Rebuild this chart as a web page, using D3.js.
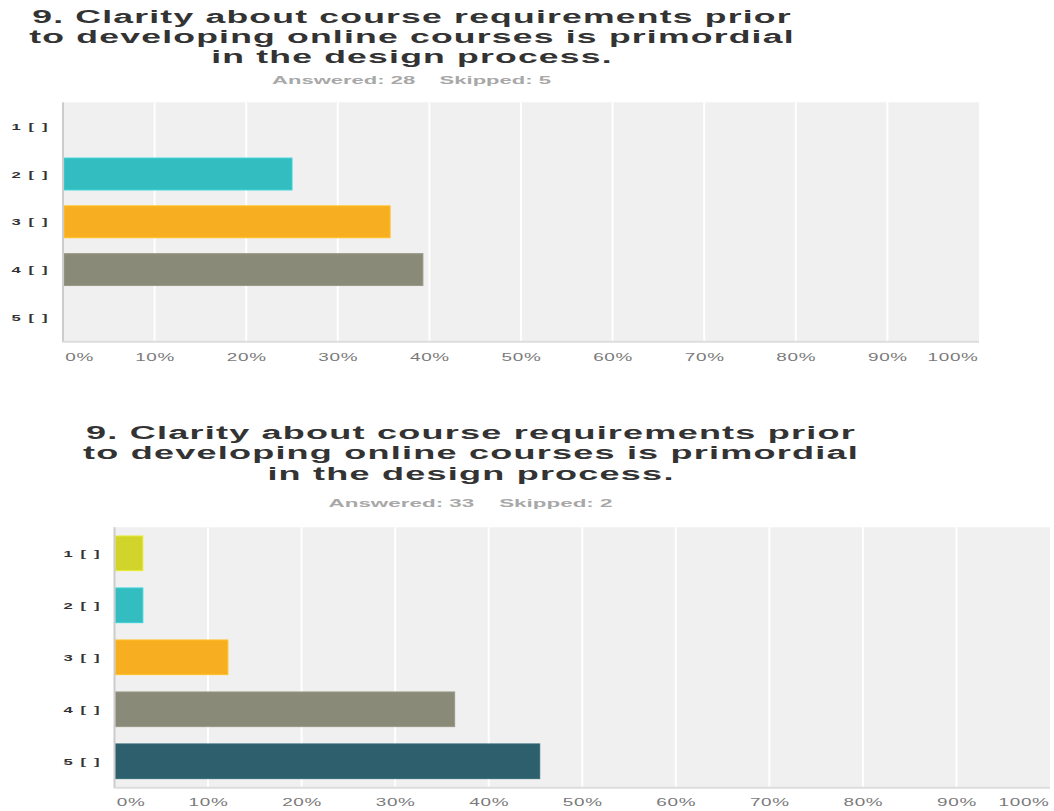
<!DOCTYPE html>
<html>
<head>
<meta charset="utf-8">
<script src="https://cdn.jsdelivr.net/npm/d3@7"></script>
<style>
  html, body { margin: 0; padding: 0; background: #fff; }
  svg { display: block; font-family: "Liberation Sans", Arial, Helvetica, sans-serif; }
</style>
</head>
<body>
<svg id="chart" width="1054" height="811"></svg>
<script>
// ---------- data ----------
const categories = ["1 [ ]", "2 [ ]", "3 [ ]", "4 [ ]", "5 [ ]"];
const barColors = ["#d1d42b", "#33bdc0", "#f7ae20", "#8a8a79", "#2e5f6c"];
const valuesA = [0, 25.0, 35.71, 39.29, 0];          // Answered 28
const valuesB = [3.03, 3.03, 12.12, 36.36, 45.45];   // Answered 33
const xTicks = [0, 10, 20, 30, 40, 50, 60, 70, 80, 90, 100];
const titleLines = [
  "9. Clarity about course requirements prior",
  "to developing online courses is primordial",
  "in the design process."
];
const statsA = "Answered: 28    Skipped: 5";
const statsB = "Answered: 33    Skipped: 2";

// ---------- layout ----------
const charts = [
  { values: valuesA, stats: statsA,
    x0: 63, x1: 979, top: 102.3, bottom: 341.3,
    titleCx: 412, titleY: [23, 43, 62.5], titleW: 760,
    statsY: 84, statsW: 279, statsCx: 411.5,
    tickY: 360.5, labelGap: 14 },
  { values: valuesB, stats: statsB,
    x0: 114.5, x1: 1050, top: 527.3, bottom: 787.3,
    titleCx: 471, titleY: [439, 459, 479.5], titleW: 770,
    statsY: 507, statsW: 284, statsCx: 470.5,
    tickY: 806, labelGap: 13.5 }
];

const svg = d3.select("#chart");

function stretchedText(parent, str, x, y, anchor) {
  const g = parent.append("g").attr("transform", `translate(${x},${y})`);
  const t = g.append("text").attr("text-anchor", anchor)
    .attr("xml:space", "preserve").style("white-space", "pre").text(str);
  return { g, t };
}

charts.forEach(c => {
  const root = svg.append("g");

  // title
  let titleSx = 1.9;
  titleLines.forEach((line, i) => {
    const { g, t } = stretchedText(root, line, c.titleCx, c.titleY[i], "middle");
    t.attr("font-size", 18).attr("font-weight", "bold").attr("fill", "#333")
      .attr("letter-spacing", 0.6);
    if (i === 0) {
      const w = t.node().getComputedTextLength();
      titleSx = c.titleW / w;
    }
    g.attr("transform", `translate(${c.titleCx},${c.titleY[i]}) scale(${titleSx},1)`);
  });

  // answered / skipped
  {
    const { g, t } = stretchedText(root, c.stats, c.statsCx, c.statsY, "middle");
    t.attr("font-size", 10.5).attr("font-weight", "bold").attr("fill", "#a8a8a8");
    const w = t.node().getComputedTextLength();
    g.attr("transform", `translate(${c.statsCx},${c.statsY}) scale(${c.statsW / w},1)`);
  }

  const x = d3.scaleLinear().domain([0, 100]).range([c.x0, c.x1]);
  const y = d3.scaleBand().domain(categories).range([c.top, c.bottom])
    .paddingInner(0.333).paddingOuter(0.167);

  // plot background
  root.append("rect")
    .attr("x", x(0)).attr("y", c.top)
    .attr("width", x(100) - x(0)).attr("height", c.bottom - c.top)
    .attr("fill", "#f0f0f0");

  // gridlines
  root.append("g").selectAll("line")
    .data(xTicks.filter(d => d > 0 && d < 100))
    .join("line")
    .attr("x1", d => x(d)).attr("x2", d => x(d))
    .attr("y1", c.top).attr("y2", c.bottom)
    .attr("stroke", "#ffffff").attr("stroke-width", 2);

  // bars
  root.append("g").selectAll("rect")
    .data(categories.map((k, i) => ({ k, v: c.values[i], col: barColors[i] })))
    .join("rect")
    .attr("x", x(0) + 1)
    .attr("y", d => y(d.k))
    .attr("width", d => Math.max(0, x(d.v) - x(0) - 1))
    .attr("height", y.bandwidth())
    .attr("fill", d => d.col)
    .attr("stroke", d => d3.color(d.col).brighter(0.3))
    .attr("stroke-width", d => d.v > 0 ? 1 : 0);

  // axis lines
  root.append("line")
    .attr("x1", x(0)).attr("x2", x(0)).attr("y1", c.top).attr("y2", c.bottom + 1)
    .attr("stroke", "#cccccc").attr("stroke-width", 2);
  root.append("line")
    .attr("x1", x(0)).attr("x2", x(100)).attr("y1", c.bottom + 0.5).attr("y2", c.bottom + 0.5)
    .attr("stroke", "#dddddd").attr("stroke-width", 2);

  // row labels
  root.append("g").selectAll("g")
    .data(categories)
    .join("g")
    .attr("transform", d => `translate(${x(0) - c.labelGap},${y(d) + y.bandwidth() / 2 + 3.5}) scale(1.75,1)`)
    .append("text")
    .attr("text-anchor", "end")
    .attr("font-size", 9.5)
    .attr("font-weight", "bold")
    .attr("letter-spacing", 0.9)
    .attr("fill", "#333")
    .attr("xml:space", "preserve")
    .style("white-space", "pre")
    .text(d => d);

  // x axis tick labels
  const axis = d3.axisBottom(x).tickValues(xTicks).tickFormat(d => d + "%").tickSize(0);
  const ag = root.append("g").attr("transform", `translate(0,${c.tickY})`).call(axis);
  ag.select(".domain").remove();
  ag.selectAll("text")
    .attr("y", 0).attr("dy", 0)
    .attr("font-size", 10.5)
    .attr("font-family", "Liberation Sans, Arial, sans-serif")
    .attr("fill", "#7a7a7a")
    .attr("letter-spacing", 0.4)
    .attr("text-anchor", (d, i) => i === 0 ? "start" : (i === xTicks.length - 1 ? "end" : "middle"))
    .attr("x", (d, i) => i === 0 ? 1 : (i === xTicks.length - 1 ? -0.5 : 0))
    .attr("transform", "scale(1.8,1)");
});
</script>
</body>
</html>
